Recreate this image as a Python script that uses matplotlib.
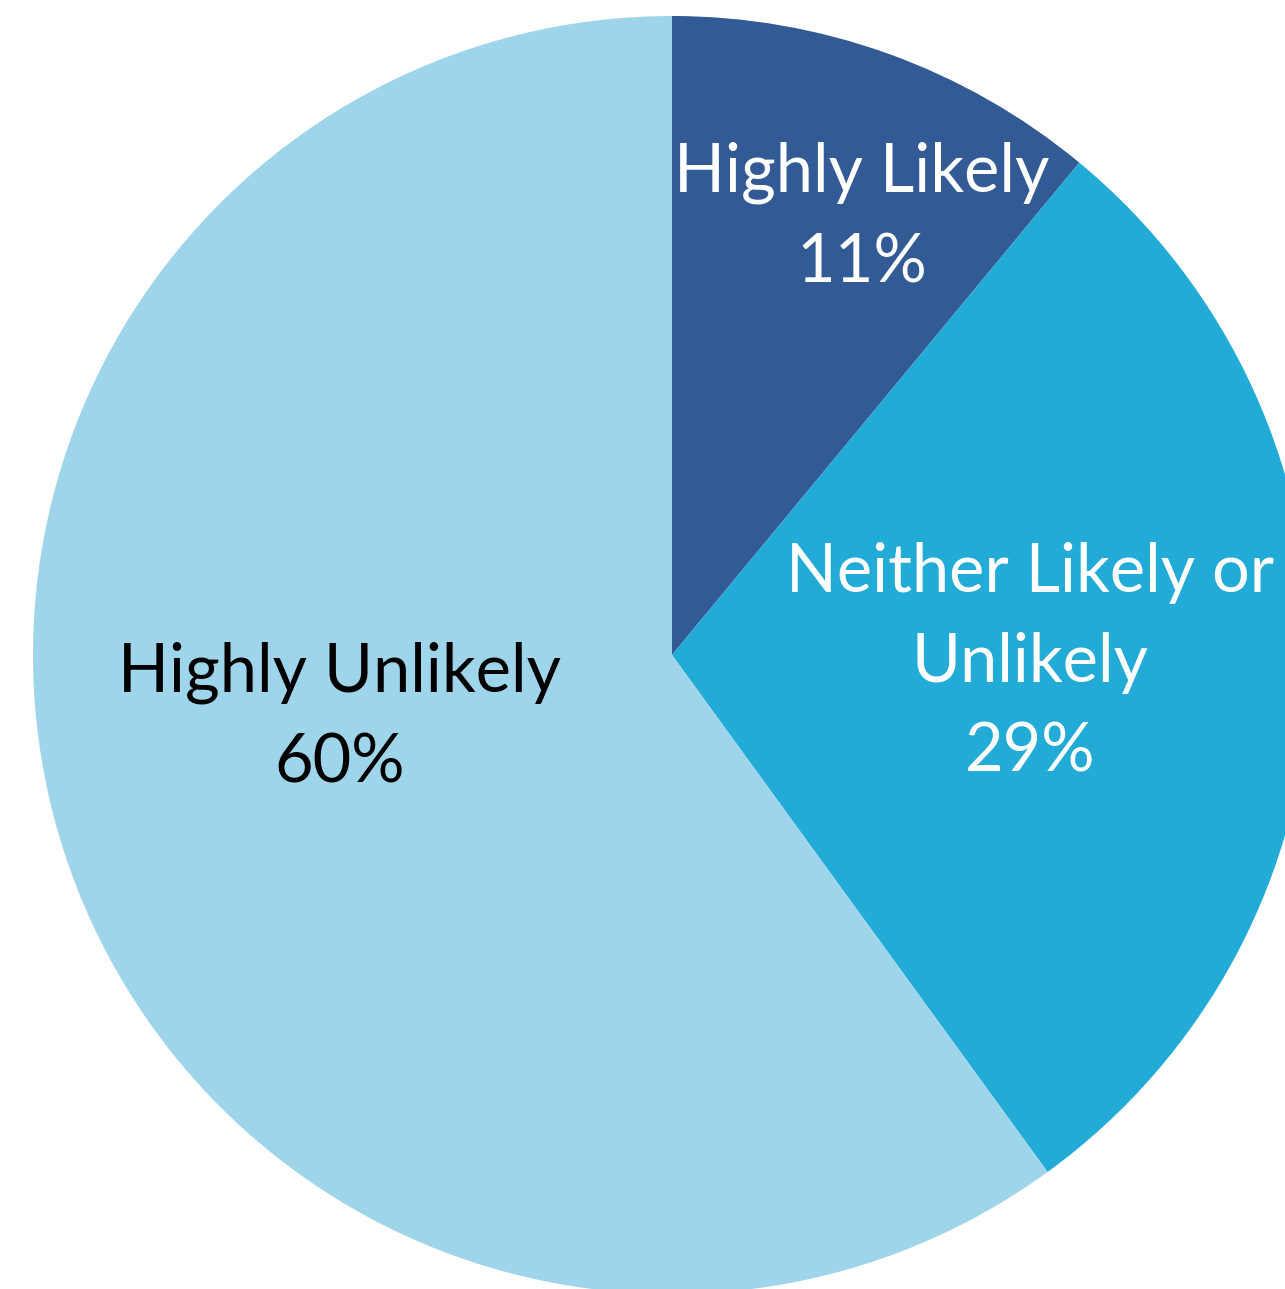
import matplotlib
matplotlib.use("Agg")
import matplotlib.pyplot as plt

categories = ["Highly Likely", "Neither Likely or\nUnlikely", "Highly Unlikely"]
values = [11, 29, 60]
colors = ["#325A94", "#22ABD6", "#9FD5EA"]
text_colors = ["white", "white", "black"]
# label anchor points (pixels from top-left)
label_xy = [(862, 218), (1030, 663), (340, 718)]

W, H = 1285, 1289
fig = plt.figure(figsize=(W / 100, H / 100), dpi=100)
ax = fig.add_axes([0, 0, 1, 1])

cx, cy, r = 672, 655, 639
ax.pie(values, colors=colors, startangle=90, counterclock=False,
       center=(cx, H - cy), radius=r, frame=True,
       wedgeprops=dict(linewidth=0))
ax.set_xlim(0, W)
ax.set_ylim(0, H)
ax.set_aspect("equal")
ax.axis("off")

for cat, v, (x, y), tc in zip(categories, values, label_xy, text_colors):
    ax.text(x, H - y, f"{cat}\n{v}%", ha="center", va="center", color=tc,
            fontsize=48, family=["Lato", "DejaVu Sans"], linespacing=1.56)

fig.savefig("out.png", dpi=100)
